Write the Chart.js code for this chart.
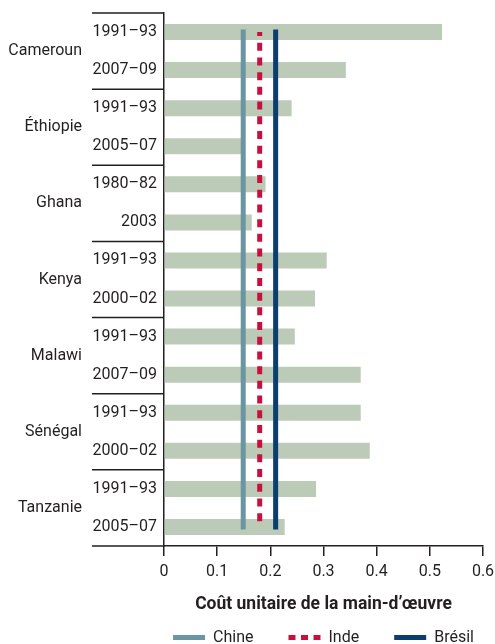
<!DOCTYPE html>
<html lang="fr">
<head>
<meta charset="utf-8">
<title>Coût unitaire de la main-d’œuvre</title>
<script src="https://cdn.jsdelivr.net/npm/chart.js@4.4.1/dist/chart.umd.min.js"></script>
<style>
  html, body { margin: 0; padding: 0; background: #fff; }
  .wrap { width: 495px; height: 644px; }
</style>
</head>
<body>
<div class="wrap"><canvas id="laborChart"></canvas></div>
<script>
// values
const countries = ["Cameroun", "Éthiopie", "Ghana", "Kenya", "Malawi", "Sénégal", "Tanzanie"];
const periods = [
  "1991–93", "2007–09",
  "1991–93", "2005–07",
  "1980–82", "2003",
  "1991–93", "2000–02",
  "1991–93", "2007–09",
  "1991–93", "2000–02",
  "1991–93", "2005–07"
];
const laborCost = [0.523, 0.342, 0.240, 0.145, 0.191, 0.165, 0.306, 0.284, 0.246, 0.370, 0.370, 0.387, 0.286, 0.227];
const benchmarkNames = ["Chine", "Inde", "Brésil"];
const benchmarkCost = [0.149, 0.180, 0.210];
const xTicks = [0, 0.1, 0.2, 0.3, 0.4, 0.5, 0.6];

const FONT = "Roboto, 'Noto Sans', sans-serif";
const INK = "#231f20";
const barColor = "#bccbb8";
const benchmarkColors = ["#6b95a2", "#c8103f", "#0b3e6f"];
const benchmarkDash = [[], [8, 6.7], []];
const legendDash = [7, 5.5]; // the legend sample is short, so tighter dashes

Chart.defaults.font.family = FONT;
Chart.defaults.color = INK;

const datasets = [{
  type: "bar",
  label: "Coût unitaire",
  data: laborCost,
  backgroundColor: barColor,
  categoryPercentage: 0.42,
  barPercentage: 1,
  order: 1
}];

benchmarkNames.forEach((name, i) => {
  datasets.push({
    type: "line",
    label: name,
    indexAxis: "y",
    parsing: false,
    // one vertical rule from the first to the last category
    data: [
      { x: benchmarkCost[i], y: 0 },
      { x: benchmarkCost[i], y: periods.length - 1 }
    ],
    borderColor: benchmarkColors[i],
    backgroundColor: benchmarkColors[i],
    borderWidth: 5,
    borderDash: benchmarkDash[i],
    borderDashOffset: 4,
    borderCapStyle: benchmarkDash[i].length ? "butt" : "square",
    pointRadius: 0,
    pointHoverRadius: 0,
    order: 0
  });
});

// horizontal rules that group the two periods of each country
const groupRules = {
  id: "groupRules",
  afterDraw(chart) {
    const ctx = chart.ctx;
    const y = chart.scales.y;
    const left = chart.scales.country.right;
    const step = y.getPixelForValue(1) - y.getPixelForValue(0);
    ctx.save();
    ctx.strokeStyle = INK;
    ctx.lineWidth = 1.5;
    ctx.beginPath();
    for (let i = 0; i <= periods.length; i += 2) {
      const py = y.getPixelForValue(i) - step / 2;
      ctx.moveTo(left, py);
      ctx.lineTo(chart.chartArea.left, py);
    }
    ctx.stroke();
    ctx.restore();
  }
};

// legend sits centred under the plot, just below the axis title
const legendUnderPlot = {
  id: "legendUnderPlot",
  afterLayout(chart) {
    const lg = chart.legend;
    const area = chart.chartArea;
    const pad = lg.options.labels.padding;
    lg.left = area.left - 40;
    lg.right = area.right + 40;
    lg.width = lg.right - lg.left;
    lg.top = chart.scales.x.bottom + 14 - pad;
    lg.bottom = chart.height;
    lg.height = lg.bottom - lg.top;
  }
};

const chartDOM = document.getElementById("laborChart");
const chart = new Chart(chartDOM, {
  type: "bar",
  data: { labels: periods, datasets: datasets },
  plugins: [groupRules, legendUnderPlot],
  options: {
    indexAxis: "y",
    responsive: true,
    maintainAspectRatio: false,
    animation: false,
    layout: { padding: { top: 13, right: 0, bottom: 0, left: 0 } },
    scales: {
      x: {
        type: "linear",
        position: "bottom",
        min: 0,
        max: 0.6,
        afterBuildTicks: (s) => { s.ticks = xTicks.map((v) => ({ value: v })); },
        afterFit: (s) => { s.paddingRight = 12; },
        ticks: { callback: (v) => String(v), font: { size: 16 }, color: INK, padding: 6 },
        grid: { drawOnChartArea: false, drawTicks: true, tickLength: 10, color: INK, lineWidth: 1.5 },
        border: { display: true, color: INK, width: 1.5 },
        title: {
          display: true,
          text: "Coût unitaire de la main-d’œuvre",
          color: INK,
          font: { size: 17.5, weight: "bold" },
          padding: { top: 7.3, bottom: 0 }
        }
      },
      y: {
        type: "category",
        position: "left",
        offset: true,
        weight: 0,
        grid: { display: false, drawTicks: false },
        border: { display: true, color: INK, width: 1.5 },
        ticks: { autoSkip: false, padding: 7, font: { size: 16 }, color: INK },
        afterFit: (s) => { s.width = 72; s.paddingTop = 0; s.paddingBottom = 0; }
      },
      country: {
        type: "category",
        axis: "y",
        position: "left",
        labels: countries,
        offset: true,
        weight: 1,
        grid: { display: false, drawTicks: false },
        border: { display: false },
        ticks: { autoSkip: false, padding: 10, font: { size: 16 }, color: INK },
        afterFit: (s) => { s.width = 92; s.paddingTop = 0; s.paddingBottom = 0; }
      }
    },
    plugins: {
      tooltip: { enabled: false },
      legend: {
        position: "bottom",
        maxHeight: 28.5,
        labels: {
          usePointStyle: true,
          pointStyle: "line",
          pointStyleWidth: 32,
          padding: 35,
          color: INK,
          font: { size: 16 },
          filter: (item) => item.datasetIndex > 0,
          generateLabels: (c) => Chart.defaults.plugins.legend.labels.generateLabels(c).map((item) => {
            const ds = c.data.datasets[item.datasetIndex];
            item.lineDash = ds.borderDash && ds.borderDash.length ? legendDash : [];
            item.lineWidth = ds.borderWidth;
            item.strokeStyle = ds.borderColor;
            item.lineCap = "butt";
            return item;
          })
        }
      }
    }
  }
});
</script>
</body>
</html>
